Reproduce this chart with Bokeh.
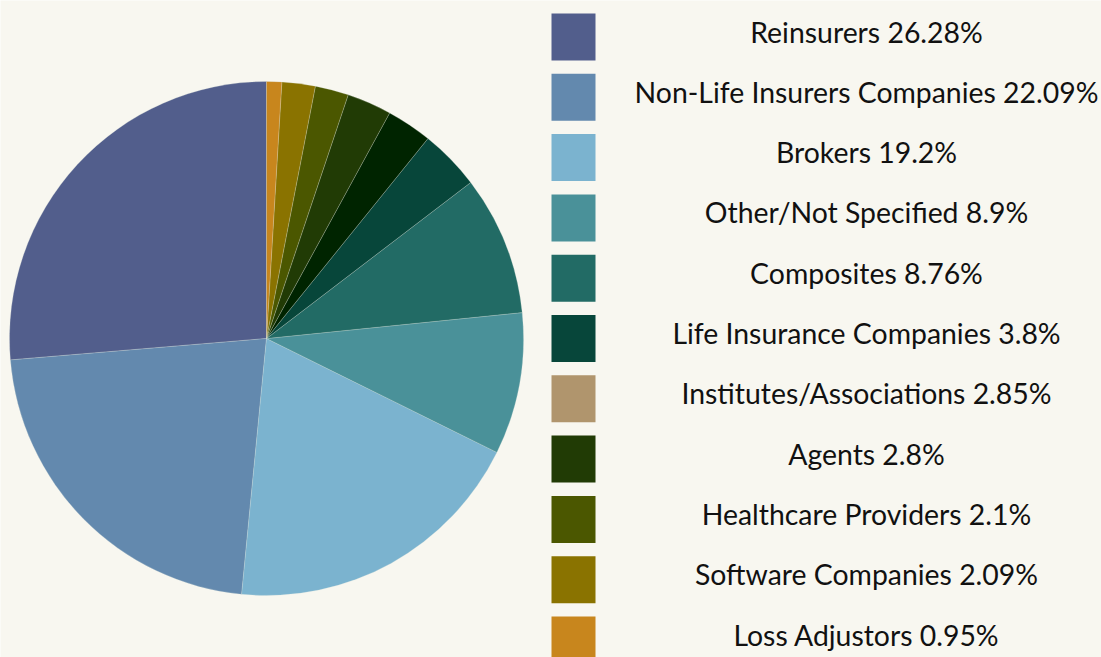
import numpy as np
from bokeh.plotting import figure
from bokeh.models import ColumnDataSource, Range1d
from bokeh.core.properties import value
from bokeh.embed import file_html
from bokeh.resources import INLINE

categories = ["Reinsurers", "Non-Life Insurers Companies", "Brokers", "Other/Not Specified",
              "Composites", "Life Insurance Companies", "Institutes/Associations", "Agents",
              "Healthcare Providers", "Software Companies", "Loss Adjustors"]
shares = [26.28, 22.09, 19.2, 8.9, 8.76, 3.8, 2.85, 2.8, 2.1, 2.09, 0.95]
share_labels = ["26.28%", "22.09%", "19.2%", "8.9%", "8.76%", "3.8%", "2.85%", "2.8%", "2.1%", "2.09%", "0.95%"]
slice_colors = ["#525e8c", "#6389ae", "#7bb3cf", "#4a9199", "#226b65", "#07463a",
                "#002400", "#213b05", "#4b5700", "#8a7300", "#c8861d"]
legend_colors = ["#525e8c", "#6389ae", "#7bb3cf", "#4a9199", "#226b65", "#07463a",
                 "#b0956d", "#213b05", "#4b5700", "#8a7300", "#c8861d"]

BG = "#f8f7f0"
W, H = 1101, 657

vals = np.array(shares, dtype=float)
frac = vals / vals.sum()
ends = np.cumsum(frac) * 2 * np.pi
starts = np.concatenate([[0.0], ends[:-1]])

src = ColumnDataSource(dict(
    start=np.pi / 2 + starts,
    end=np.pi / 2 + ends,
    color=slice_colors,
    x=[266] * len(vals),
    y=[H - 338] * len(vals),
))

p = figure(width=W, height=H, output_backend="svg", toolbar_location=None,
           x_range=Range1d(0, W), y_range=Range1d(0, H),
           min_border=0, background_fill_color=BG, border_fill_color=BG)
p.outline_line_color = None
p.axis.visible = False
p.grid.visible = False

p.wedge(x="x", y="y", radius=257, radius_units="screen",
        start_angle="start", end_angle="end",
        fill_color="color", line_color="#dfe6df", line_width=0.4, line_alpha=0.6,
        source=src)

n = len(categories)
step = 60.3
tops = [13 + step * i for i in range(n)]
leg = ColumnDataSource(dict(
    x=[573] * n,
    y=[H - (t + 23.5) for t in tops],
    color=legend_colors,
    tx=[866] * n,
    ty=[H - (t + 18) for t in tops],
    label=[f"{c} {s}" for c, s in zip(categories, share_labels)],
))
p.rect(x="x", y="y", width=44, height=47, width_units="screen", height_units="screen",
       fill_color="color", line_color=None, source=leg)
p.text(x="tx", y="ty", text="label", text_align="center", text_baseline="middle",
       text_font=value("Lato"), text_font_size="28.4px", text_color="#111111", source=leg)

html = file_html(p, INLINE)
html = html.replace("<body>", f'<body style="background:{BG};">', 1)
open("out.html", "w").write(html)
